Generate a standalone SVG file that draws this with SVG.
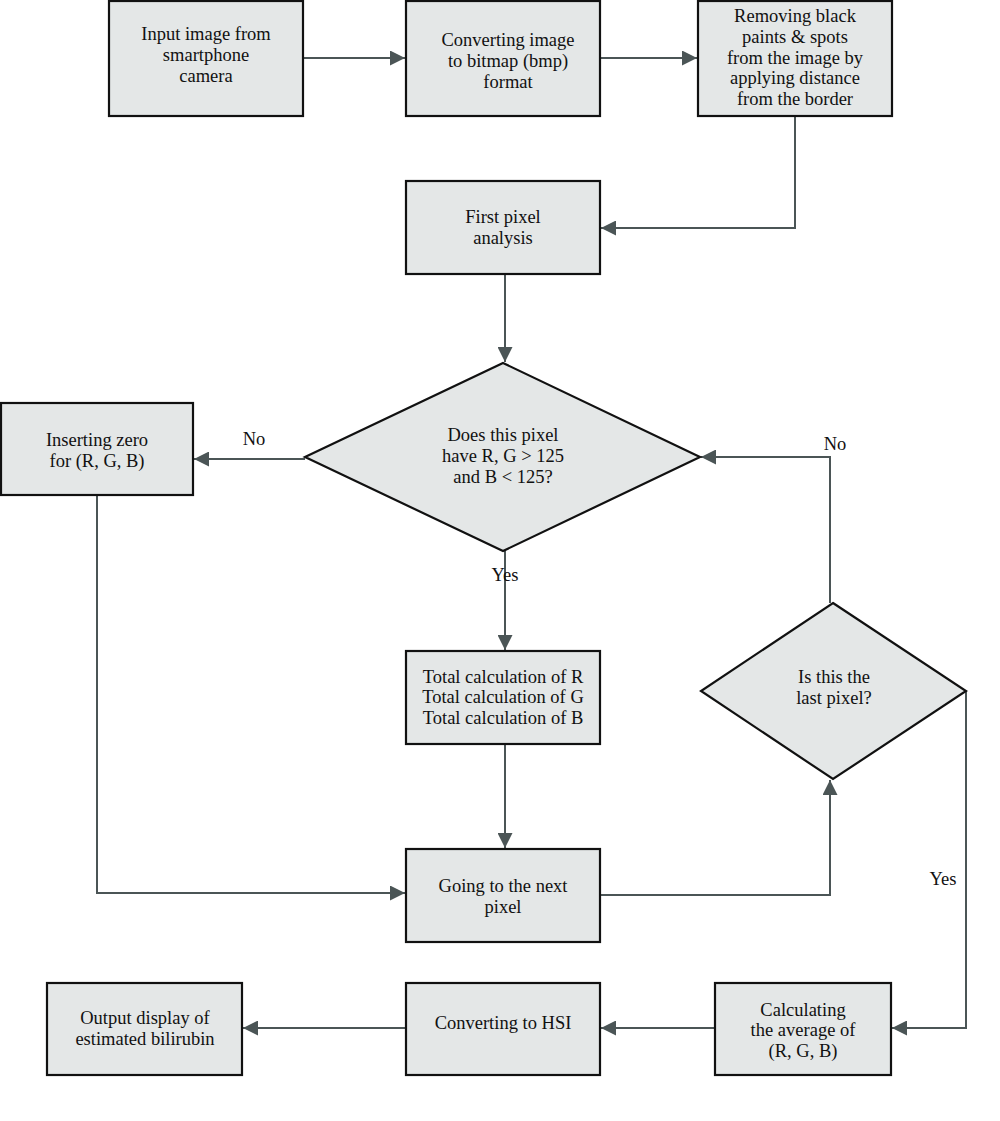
<svg xmlns="http://www.w3.org/2000/svg" width="1000" height="1121" viewBox="0 0 1000 1121">
<defs>
<marker id="ah" viewBox="0 0 10 10" refX="10" refY="5" markerWidth="15" markerHeight="15" markerUnits="userSpaceOnUse" orient="auto">
<path d="M0,0 L10,5 L0,10 z" fill="#4b5556"/>
</marker>
<style>
.box{fill:#e4e7e7;stroke:#111;stroke-width:2.2}
.c{fill:none;stroke:#4b5556;stroke-width:2;marker-end:url(#ah)}
text{font-family:"Liberation Serif","DejaVu Serif",serif;font-size:18.5px;fill:#111;text-anchor:middle}
</style>
</defs>
<rect width="1000" height="1121" fill="#fff"/>
<g id="connectors">
<line class="c" x1="303" y1="58" x2="405" y2="58"/>
<line class="c" x1="600" y1="58" x2="697" y2="58"/>
<polyline class="c" points="795,116 795,228 601,228"/>
<line class="c" x1="505" y1="274" x2="505" y2="362"/>
<line class="c" x1="305" y1="459" x2="194" y2="459"/>
<polyline class="c" points="97,495 97,893 405,893"/>
<line class="c" x1="505" y1="551" x2="505" y2="650"/>
<line class="c" x1="505" y1="744" x2="505" y2="848"/>
<polyline class="c" points="600,895 830,895 830,780"/>
<polyline class="c" points="830,603 830,457 701,457"/>
<polyline class="c" points="966,691 966,1028 892,1028"/>
<line class="c" x1="715" y1="1028" x2="601" y2="1028"/>
<line class="c" x1="406" y1="1028" x2="243" y2="1028"/>
<text x="254" y="445">No</text>
<text x="505" y="581">Yes</text>
<text x="835" y="450">No</text>
<text x="943" y="885">Yes</text>
</g>
<g id="n1"><rect class="box" x="109" y="1" width="194" height="115"/>
<text x="206" y="40">Input image from</text><text x="206" y="61">smartphone</text><text x="206" y="82">camera</text></g>
<g id="n2"><rect class="box" x="406" y="1" width="194" height="115"/>
<text x="508" y="46">Converting image</text><text x="508" y="67">to bitmap (bmp)</text><text x="508" y="88">format</text></g>
<g id="n3"><rect class="box" x="698" y="1" width="194" height="115"/>
<text x="795" y="22">Removing black</text><text x="795" y="43">paints &amp; spots</text><text x="795" y="64">from the image by</text><text x="795" y="84">applying distance</text><text x="795" y="105">from the border</text></g>
<g id="n4"><rect class="box" x="406" y="181" width="194" height="93"/>
<text x="503" y="223">First pixel</text><text x="503" y="244">analysis</text></g>
<g id="n5"><polygon class="box" points="503,363 700,457 503,551 305,457"/>
<text x="503" y="441">Does this pixel</text><text x="503" y="462">have R, G &gt; 125</text><text x="503" y="483">and B &lt; 125?</text></g>
<g id="n6"><rect class="box" x="1" y="403" width="192" height="92"/>
<text x="97" y="446">Inserting zero</text><text x="97" y="467">for (R, G, B)</text></g>
<g id="n7"><rect class="box" x="406" y="651" width="194" height="93"/>
<text x="503" y="683">Total calculation of R</text><text x="503" y="703">Total calculation of G</text><text x="503" y="724">Total calculation of B</text></g>
<g id="n8"><rect class="box" x="406" y="849" width="194" height="93"/>
<text x="503" y="892">Going to the next</text><text x="503" y="913">pixel</text></g>
<g id="n9"><polygon class="box" points="833,603 966,691 833,779 701,691"/>
<text x="834" y="683">Is this the</text><text x="834" y="704">last pixel?</text></g>
<g id="n10"><rect class="box" x="715" y="983" width="176" height="92"/>
<text x="803" y="1016">Calculating</text><text x="803" y="1036">the average of</text><text x="803" y="1057">(R, G, B)</text></g>
<g id="n11"><rect class="box" x="406" y="983" width="194" height="92"/>
<text x="503" y="1029">Converting to HSI</text></g>
<g id="n12"><rect class="box" x="47" y="983" width="195" height="92"/>
<text x="145" y="1024">Output display of</text><text x="145" y="1045">estimated bilirubin</text></g>
</svg>
